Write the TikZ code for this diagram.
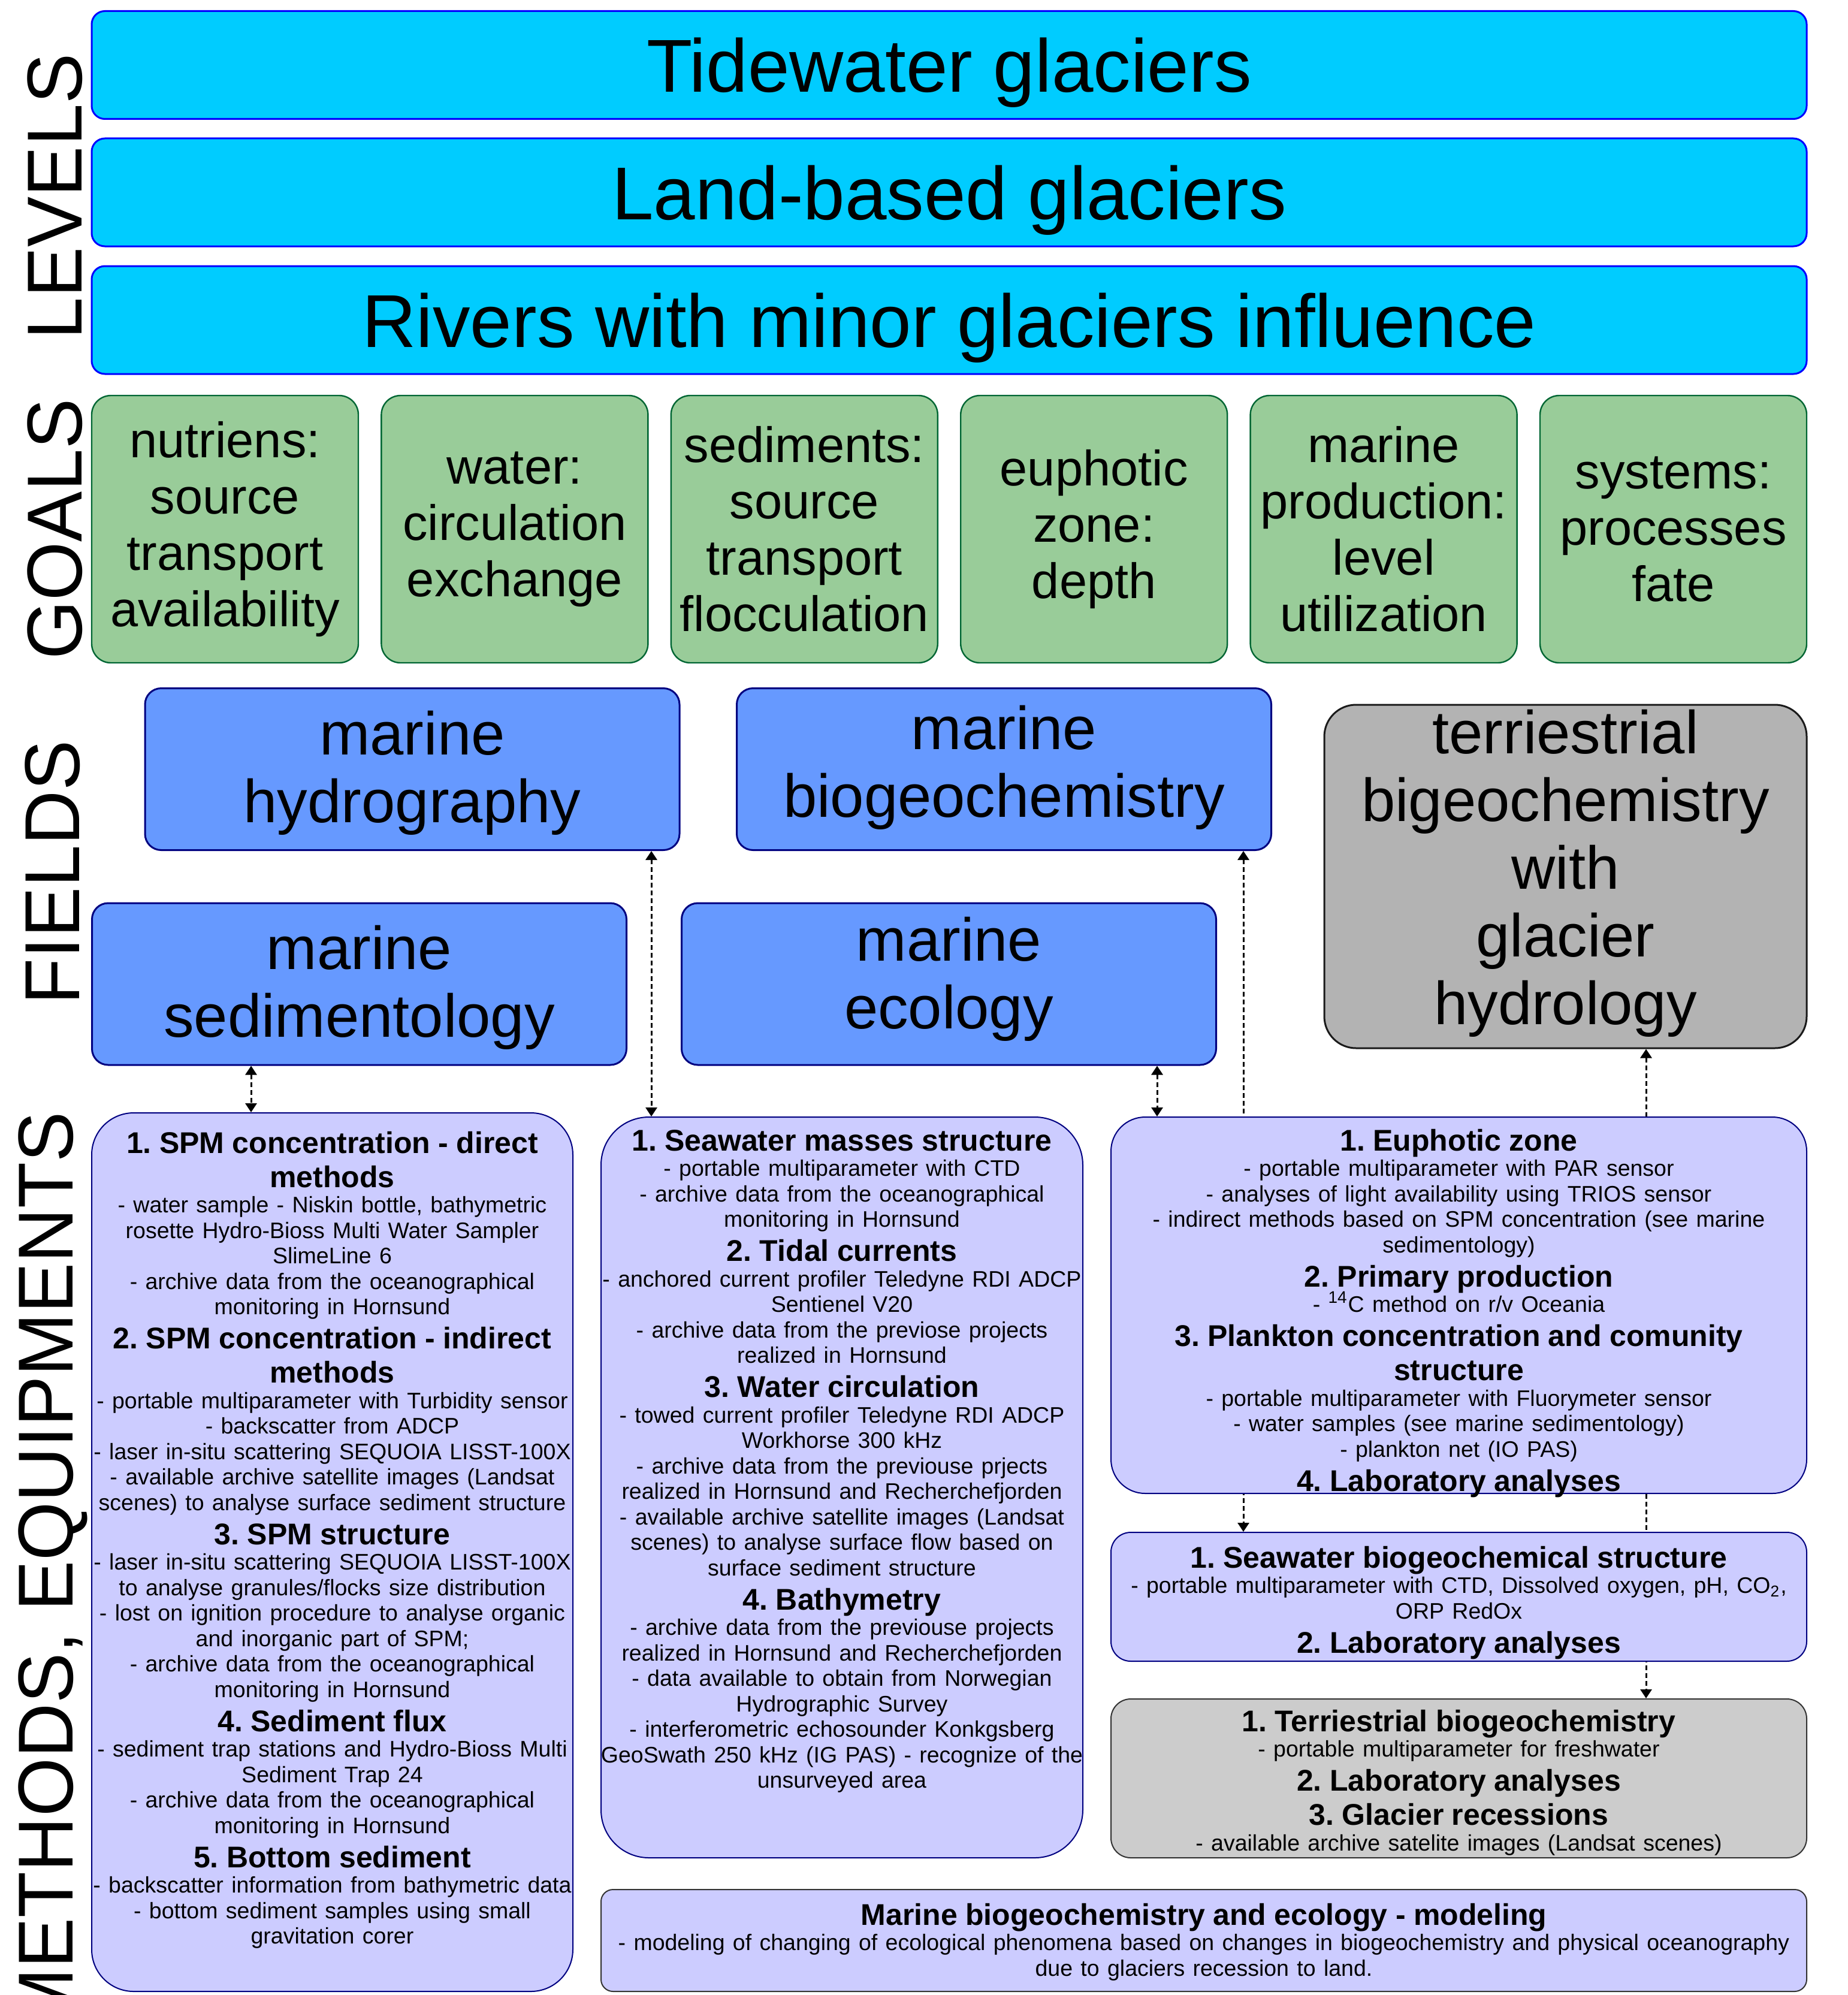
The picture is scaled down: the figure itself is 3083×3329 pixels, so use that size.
\documentclass[tikz,border=0pt]{standalone}
\usepackage{fontspec}
\setmainfont{Liberation Sans}
\usepackage{graphicx}
\usetikzlibrary{arrows.meta}
\pgfdeclarelayer{bg}
\pgfsetlayers{bg,main}
\frenchspacing
\definecolor{lvlfill}{HTML}{00CCFF}
\definecolor{lvldraw}{HTML}{0000FF}
\definecolor{goalfill}{HTML}{99CC99}
\definecolor{goaldraw}{HTML}{006633}
\definecolor{fldfill}{HTML}{6699FF}
\definecolor{flddraw}{HTML}{000080}
\definecolor{terfill}{HTML}{B3B3B3}
\definecolor{terdraw}{HTML}{1A1A1A}
\definecolor{metfill}{HTML}{CCCCFF}
\definecolor{metdraw}{HTML}{000080}
\definecolor{tmfill}{HTML}{CCCCCC}
\definecolor{tmdraw}{HTML}{333333}
\newcommand\mhead[1]{{\fontsize{12.5pt}{14.25pt}\bfseries\selectfont #1\par}}
\newcommand\mtext[1]{{\fontsize{9.375pt}{10.625pt}\selectfont #1\par}}
\newcommand\sidelabel[1]{\scalebox{0.97}[1]{#1}}
\begin{document}
\frenchspacing
\begin{tikzpicture}[x=0.25pt,y=-0.25pt,
  lvl/.style={draw=lvldraw,fill=lvlfill,line width=0.75pt,rounded corners=5.5pt,
    minimum width=715.5pt,minimum height=45pt,inner sep=0pt,
    font=\fontsize{31.25pt}{36pt}\selectfont,text depth=0pt},
  goal/.style={draw=goaldraw,fill=goalfill,line width=0.6pt,rounded corners=8pt,
    minimum width=111.25pt,minimum height=111.5pt,inner sep=0pt,align=center,
    font=\fontsize{20.75pt}{23.5pt}\selectfont},
  fld/.style={draw=flddraw,fill=fldfill,line width=0.75pt,rounded corners=6.75pt,
    minimum width=223pt,minimum height=67.5pt,inner sep=0pt,align=center,
    font=\fontsize{25.3pt}{28.25pt}\selectfont,text depth=2.25pt},
  terf/.style={draw=terdraw,fill=terfill,line width=0.75pt,rounded corners=13.25pt,
    minimum width=201.25pt,minimum height=143.25pt,inner sep=0pt,align=center,
    font=\fontsize{25.3pt}{28.25pt}\selectfont},
  metb/.style={draw=metdraw,fill=metfill,line width=0.5pt,inner sep=0pt},
  tmb/.style={draw=tmdraw,fill=tmfill,line width=0.5pt,inner sep=0pt},
  modb/.style={draw=tmdraw,fill=metfill,line width=0.5pt,inner sep=0pt},
  mtxt/.style={anchor=base,align=center,inner sep=0pt},
  side/.style={rotate=90,anchor=base,inner sep=0pt,font=\fontsize{32.5pt}{36pt}\selectfont},
  conn/.style={line width=0.75pt,dash pattern=on 2pt off 1.25pt,
    {Triangle[length=3.75pt,width=4.75pt]}-{Triangle[length=3.75pt,width=4.75pt]}}
]
\useasboundingbox (0,0) rectangle (3083,3329);

% side labels
\node[side] (labL) at (137,328) {\sidelabel{LEVELS}};
\node[side] (labG) at (137,883) {\sidelabel{GOALS}};
\node[side] (labF) at (132,1456) {\sidelabel{FIELDS}};
\node[side] (labM) at (122,2622) {\sidelabel{METHODS, EQUIPMENTS}};

% levels
\node[lvl] (tide) at (1584,108.5) {Tidewater glaciers};
\node[lvl] (land) at (1584,321) {Land-based glaciers};
\node[lvl] (rivers) at (1584,534) {Rivers with minor glaciers influence};

% goals
\node[goal] (g1) at (375.5,883) {nutriens:\\source\\transport\\availability};
\node[goal] (g2) at (858.9,883) {water:\\circulation\\exchange};
\node[goal] (g3) at (1342.3,883) {sediments:\\source\\transport\\flocculation};
\node[goal] (g4) at (1825.7,883) {euphotic\\zone:\\depth};
\node[goal] (g5) at (2309.1,883) {marine\\production:\\level\\utilization};
\node[goal] (g6) at (2792.5,883) {systems:\\processes\\fate};

% fields
\node[fld] (hydro) at (688,1283.5) {marine\\hydrography};
\node[fld,text depth=6.5pt] (biogeo) at (1675.5,1283.5) {marine\\biogeochemistry};
\node[fld] (sedim) at (599.5,1642) {marine\\sedimentology};
\node[fld,text depth=9.25pt] (ecol) at (1583.5,1642) {marine\\ecology};
\node[terf,text depth=7.75pt] (terri) at (2612.5,1462.5) {terriestrial\\bigeochemistry\\with\\glacier\\hydrology};

% methods boxes
\node[metb,minimum width=200.75pt,minimum height=366.5pt,rounded corners=17.5pt] (spm) at (554.5,2590) {};
\node[metb,minimum width=201pt,minimum height=309pt,rounded corners=20pt] (sea) at (1405,2482) {};
\node[metb,minimum width=290.25pt,minimum height=157pt,rounded corners=14.25pt] (euph) at (2434.5,2178) {};
\node[metb,minimum width=290.25pt,minimum height=53.75pt,rounded corners=8.25pt] (sbio) at (2434.5,2664.5) {};
\node[tmb,minimum width=290.25pt,minimum height=66.25pt,rounded corners=8.25pt] (tmet) at (2434.5,2967.5) {};
\node[modb,minimum width=503pt,minimum height=42.5pt,rounded corners=5pt] (model) at (2009,3238) {};

% methods texts
\node[mtxt,text width=260pt] (spmtext) at (554.5,1924) {%
\mhead{1. SPM concentration - direct\\methods}
\mtext{- water sample - Niskin bottle, bathymetric\\rosette Hydro-Bioss Multi Water Sampler\\SlimeLine 6\\- archive data from the oceanographical\\monitoring in Hornsund}
\mhead{2. SPM concentration - indirect\\methods}
\mtext{- portable multiparameter with Turbidity sensor\\- backscatter from ADCP\\- laser in-situ scattering SEQUOIA LISST-100X\\- available archive satellite images (Landsat\\scenes) to analyse surface sediment structure}
\mhead{3. SPM structure}
\mtext{- laser in-situ scattering SEQUOIA LISST-100X\\to analyse granules/flocks size distribution\\- lost on ignition procedure to analyse organic\\and inorganic part of SPM;\\- archive data from the oceanographical\\monitoring in Hornsund}
\mhead{4. Sediment flux}
\mtext{- sediment trap stations and Hydro-Bioss Multi\\Sediment Trap 24\\- archive data from the oceanographical\\monitoring in Hornsund}
\mhead{5. Bottom sediment}
\mtext{- backscatter information from bathymetric data\\- bottom sediment samples using small\\gravitation corer}};

\node[mtxt,text width=260pt] (seatext) at (1405,1920) {%
\mhead{1. Seawater masses structure}
\mtext{- portable multiparameter with CTD\\- archive data from the oceanographical\\monitoring in Hornsund}
\mhead{2. Tidal currents}
\mtext{- anchored current profiler Teledyne RDI ADCP\\Sentienel V20\\- archive data from the previose projects\\realized in Hornsund}
\mhead{3. Water circulation}
\mtext{- towed current profiler Teledyne RDI ADCP\\Workhorse 300 kHz\\- archive data from the previouse prjects\\realized in Hornsund and Recherchefjorden\\- available archive satellite images (Landsat\\scenes) to analyse surface flow based on\\surface sediment structure}
\mhead{4. Bathymetry}
\mtext{- archive data from the previouse projects\\realized in Hornsund and Recherchefjorden\\- data available to obtain from Norwegian\\Hydrographic Survey\\- interferometric echosounder Konkgsberg\\GeoSwath 250 kHz (IG PAS) - recognize of the\\unsurveyed area}};

\node[mtxt,text width=320pt] (euphtext) at (2434.5,1920) {%
\mhead{1. Euphotic zone}
\mtext{- portable multiparameter with PAR sensor\\- analyses of light availability using TRIOS sensor\\- indirect methods based on SPM concentration (see marine\\sedimentology)}
\mhead{2. Primary production}
\mtext{- \smash{\textsuperscript{\scriptsize 14}}C method on r/v Oceania}
\mhead{3. Plankton concentration and comunity\\structure}
\mtext{- portable multiparameter with Fluorymeter sensor\\- water samples (see marine sedimentology)\\- plankton net (IO PAS)}
\mhead{4. Laboratory analyses}};

\node[mtxt,text width=320pt] (sbiotext) at (2434.5,2616) {%
\mhead{1. Seawater biogeochemical structure}
\mtext{- portable multiparameter with CTD, Dissolved oxygen, pH, CO\smash{\textsubscript{2}},\\ORP RedOx}
\mhead{2. Laboratory analyses}};

\node[mtxt,text width=320pt] (tmettext) at (2434.5,2889) {%
\mhead{1. Terriestrial biogeochemistry}
\mtext{- portable multiparameter for freshwater}
\mhead{2. Laboratory analyses}
\mhead{3. Glacier recessions}
\mtext{- available archive satelite images (Landsat scenes)}};

\node[mtxt,text width=520pt] (modtext) at (2009,3212) {%
\mhead{Marine biogeochemistry and ecology - modeling}
\mtext{- modeling of changing of ecological phenomena based on changes in biogeochemistry and physical oceanography\\due to glaciers recession to land.}};

% connectors
\coordinate (ca) at (419,0);
\coordinate (cb) at (1087,0);
\coordinate (cc) at (1931,0);
\coordinate (cd) at (2075,0);
\coordinate (ce) at (2747,0);
\begin{pgfonlayer}{bg}
\draw[conn] (sedim.south -| ca) -- (spm.north -| ca);
\draw[conn] (hydro.south -| cb) -- (sea.north -| cb);
\draw[conn] (ecol.south -| cc) -- (euph.north -| cc);
\draw[conn] (biogeo.south -| cd) -- (sbio.north -| cd);
\draw[conn] (terri.south -| ce) -- (tmet.north -| ce);
\end{pgfonlayer}
\end{tikzpicture}
\end{document}
